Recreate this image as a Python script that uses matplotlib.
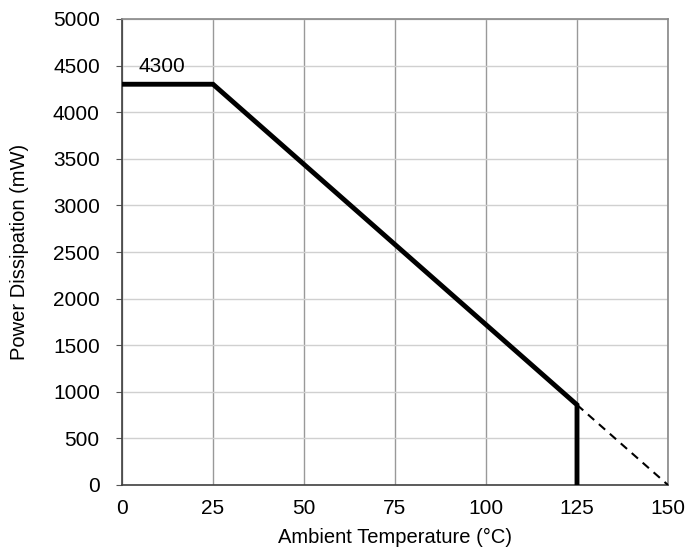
import matplotlib
matplotlib.use("Agg")
import matplotlib.pyplot as plt

plt.rcParams['font.family'] = ['Liberation Sans', 'DejaVu Sans']

temp_solid = [0, 25, 125, 125]
power_solid = [4300, 4300, 860, 0]
temp_dash = [125, 150]
power_dash = [860, 0]
xticks = [0, 25, 50, 75, 100, 125, 150]
yticks = list(range(0, 5001, 500))

fig = plt.figure(figsize=(6.85, 5.57), dpi=100)
ax = fig.add_axes([122/685, 1-485/557, (668-122)/685, (485-19)/557])

ax.plot(temp_solid, power_solid, color='black', lw=3.5, solid_joinstyle='miter', zorder=3)
ax.plot(temp_dash, power_dash, color='black', lw=1.5, ls=(0, (4, 3)), zorder=3)
ax.text(4.4, 4430, '4300', fontsize=15, ha='left', va='baseline')

ax.set_xlim(0, 150)
ax.set_ylim(0, 5000)
ax.set_xticks(xticks)
ax.set_yticks(yticks)
ax.tick_params(labelsize=15, color='#555555', length=4)
ax.tick_params(axis='x', length=0, pad=10)
ax.tick_params(axis='y', pad=12)
ax.xaxis.grid(True, color='#999999', lw=1)
ax.yaxis.grid(True, color='#d0d0d0', lw=1)
ax.set_axisbelow(True)
for s in ax.spines.values():
    s.set_color('#888888')
    s.set_linewidth(1.2)
ax.spines['left'].set_color('#404040')
ax.spines['bottom'].set_color('#404040')

ax.set_xlabel('Ambient Temperature (°C)', fontsize=14.5, labelpad=7)
ax.set_ylabel('Power Dissipation (mW)', fontsize=14.5, labelpad=17)

fig.savefig('out.png', dpi=100)
